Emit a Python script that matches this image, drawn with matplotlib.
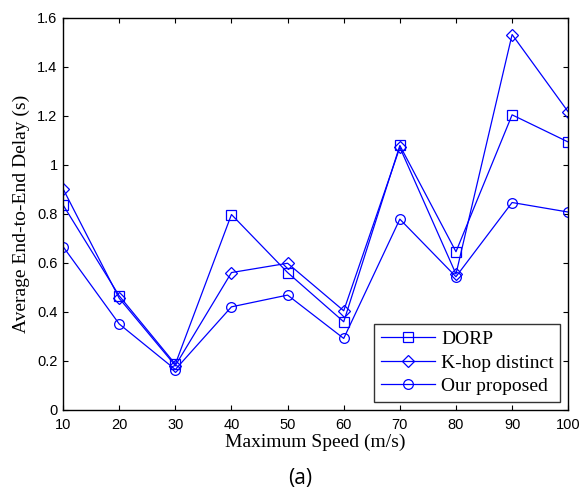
import numpy as np
import matplotlib.pyplot as plt

# Hámarkshraði (m/s)
speed = [10, 20, 30, 40, 50, 60, 70, 80, 90, 100]

# Meðal töf enda á milli (s)
dorp = [0.836, 0.465, 0.186, 0.797, 0.560, 0.359, 1.079, 0.645, 1.204, 1.093]
khop = [0.902, 0.455, 0.180, 0.560, 0.598, 0.404, 1.071, 0.554, 1.532, 1.216]
proposed = [0.666, 0.350, 0.164, 0.420, 0.468, 0.291, 0.778, 0.543, 0.846, 0.807]

serif = "Liberation Serif"
sans = "Liberation Sans"

fig = plt.figure(figsize=(5.84, 4.96), dpi=100)
ax = fig.add_axes([0.108, 0.174, 0.865, 0.790])

line_kw = dict(color="#0000ff", linewidth=0.9, markerfacecolor="none",
               markeredgewidth=0.9)
ax.plot(speed, dorp, marker="s", markersize=7.5, label="DORP", **line_kw)
ax.plot(speed, khop, marker="D", markersize=6, label="K-hop distinct", **line_kw)
ax.plot(speed, proposed, marker="o", markersize=7, label="Our proposed", **line_kw)

ax.set_xlim(10, 100)
ax.set_ylim(0, 1.6)
ax.set_xticks(np.arange(10, 101, 10))
ax.set_yticks(np.arange(0, 1.61, 0.2))
ax.set_yticklabels(["0", "0.2", "0.4", "0.6", "0.8", "1", "1.2", "1.4", "1.6"])
ax.tick_params(direction="in", top=True, right=True, length=3.5, width=0.8,
               labelsize=10.5)
ax.tick_params(axis="x", pad=6)
ax.tick_params(axis="y", pad=4)
for lab in ax.get_xticklabels() + ax.get_yticklabels():
    lab.set_family(sans)
for sp in ax.spines.values():
    sp.set_linewidth(1.0)

ax.set_xlabel("Maximum Speed (m/s)", family=serif, fontsize=14, labelpad=1)
ax.set_ylabel("Average End-to-End Delay (s)", family=serif, fontsize=14, labelpad=5)

leg = ax.legend(loc="lower right", prop={"family": serif, "size": 14},
                handlelength=2.8, borderaxespad=0.4, fancybox=False,
                labelspacing=0.3, borderpad=0.35, handletextpad=0.3)
leg.get_frame().set_edgecolor("black")
leg.get_frame().set_linewidth(1.0)

fig.text(0.514, 0.025, "(a)", family="Open Sans", fontsize=15, ha="center")

plt.savefig("out.png", dpi=100)
